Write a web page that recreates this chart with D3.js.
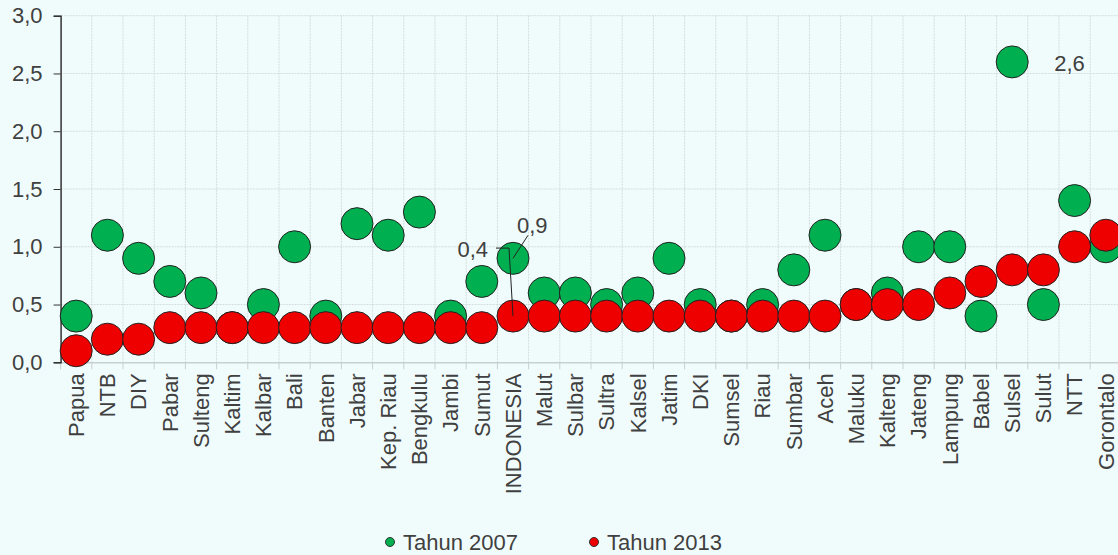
<!DOCTYPE html>
<meta charset="utf-8">
<head>
<script src="https://d3js.org/d3.v7.min.js"></script>
<style>
  body { margin: 0; background: #f0fcfc; }
  svg { display: block; font-family: "Liberation Sans", Arial, Helvetica, sans-serif; }
</style>
</head>
<body>
<svg></svg>
<script>
  // Data
  var provinces = ["Papua", "NTB", "DIY", "Pabar", "Sulteng", "Kaltim", "Kalbar", "Bali", "Banten", "Jabar",
    "Kep. Riau", "Bengkulu", "Jambi", "Sumut", "INDONESIA", "Malut", "Sulbar", "Sultra", "Kalsel", "Jatim",
    "DKI", "Sumsel", "Riau", "Sumbar", "Aceh", "Maluku", "Kalteng", "Jateng", "Lampung", "Babel",
    "Sulsel", "Sulut", "NTT", "Gorontalo"];
  var tahun2007 = [0.4, 1.1, 0.9, 0.7, 0.6, 0.3, 0.5, 1.0, 0.4, 1.2,
    1.1, 1.3, 0.4, 0.7, 0.9, 0.6, 0.6, 0.5, 0.6, 0.9,
    0.5, 0.4, 0.5, 0.8, 1.1, 0.5, 0.6, 1.0, 1.0, 0.4,
    2.6, 0.5, 1.4, 1.0];
  var tahun2013 = [0.1, 0.2, 0.2, 0.3, 0.3, 0.3, 0.3, 0.3, 0.3, 0.3,
    0.3, 0.3, 0.3, 0.3, 0.4, 0.4, 0.4, 0.4, 0.4, 0.4,
    0.4, 0.4, 0.4, 0.4, 0.4, 0.5, 0.5, 0.5, 0.6, 0.7,
    0.8, 0.8, 1.0, 1.1];
  var yTicks = [0, 0.5, 1, 1.5, 2, 2.5, 3];
  var seriesNames = ["Tahun 2007", "Tahun 2013"];
  var seriesColors = ["#00b050", "#ee0000"];

  var width = 1118, height = 555;
  var plotLeft = 60.6, plotTop = 15.7, plotBottom = 362.3;
  var band = 31.2;

  var svg = d3.select("svg").attr("width", width).attr("height", height);
  var fmt = function (d) { return d3.format(".1f")(d).replace(".", ","); };

  var x = d3.scaleBand().domain(provinces).range([plotLeft, plotLeft + band * provinces.length]);
  var y = d3.scaleLinear().domain([0, 3]).range([plotBottom, plotTop]);

  // gridlines
  var grid = svg.append("g").attr("stroke", "#d3dcdc").attr("stroke-dasharray", "2,1");
  grid.selectAll("line.h").data(yTicks.slice(1)).enter().append("line")
    .attr("x1", plotLeft).attr("x2", width).attr("y1", y).attr("y2", y);
  grid.selectAll("line.v").data(provinces.slice(1)).enter().append("line")
    .attr("x1", function (d) { return x(d); }).attr("x2", function (d) { return x(d); })
    .attr("y1", plotTop).attr("y2", plotBottom);

  // x axis
  var xAxis = svg.append("g").attr("transform", "translate(0," + plotBottom + ")")
    .call(d3.axisBottom(x).tickSize(0).tickFormat(""));
  xAxis.select(".domain").attr("stroke", "#c8d0d0").attr("stroke-width", 1.5);
  xAxis.selectAll(".bt").data(provinces).enter().append("line")
    .attr("x1", function (d) { return x(d); }).attr("x2", function (d) { return x(d); })
    .attr("y1", 0).attr("y2", 7).attr("stroke", "#c8d0d0");
  svg.append("g").selectAll("text").data(provinces).enter().append("text")
    .attr("transform", function (d) { return "translate(" + (x(d) + band / 2) + "," + (plotBottom + 11) + ")rotate(-90)"; })
    .attr("dy", "0.35em")
    .attr("text-anchor", "end")
    .attr("font-size", 22)
    .attr("fill", "#404040")
    .text(function (d) { return d; });

  // y axis
  var yAxis = svg.append("g").attr("transform", "translate(" + plotLeft + ",0)")
    .call(d3.axisLeft(y).tickValues(yTicks).tickSize(7).tickPadding(11).tickFormat(fmt));
  yAxis.select(".domain").attr("stroke", "#333").attr("stroke-width", 1.5);
  yAxis.selectAll(".tick line").attr("stroke", "#333");
  yAxis.selectAll("text").attr("font-size", 22).attr("fill", "#404040")
    .attr("font-family", "'Liberation Sans', Arial, sans-serif");

  // dots
  [tahun2007, tahun2013].forEach(function (vals, s) {
    svg.append("g").selectAll("circle").data(vals).enter().append("circle")
      .attr("cx", function (d, i) { return x(provinces[i]) + band / 2; })
      .attr("cy", function (d) { return y(d); })
      .attr("r", 16)
      .attr("fill", seriesColors[s])
      .attr("stroke", "#222")
      .attr("stroke-width", 1);
  });

  // annotations
  var ix = x("INDONESIA") + band / 2;
  var iRed = y(tahun2013[14]), iGreen = y(tahun2007[14]);
  var ann = svg.append("g").attr("font-size", 22).attr("fill", "#404040");
  svg.append("polyline")
    .attr("points", [[ix - 17, iRed - 68], [ix - 4, iRed - 68], [ix, iRed]].join(" "))
    .attr("fill", "none").attr("stroke", "#222").attr("stroke-width", 1);
  ann.append("text").attr("x", ix - 25).attr("y", iRed - 59).attr("text-anchor", "end").text(fmt(tahun2013[14]));
  svg.append("line")
    .attr("x1", ix).attr("y1", iGreen).attr("x2", ix + 15).attr("y2", iGreen - 23)
    .attr("stroke", "#222").attr("stroke-width", 1);
  ann.append("text").attr("x", ix + 4).attr("y", iGreen - 25).text(fmt(tahun2007[14]));
  var sx = x("Sulsel") + band / 2;
  ann.append("text").attr("x", sx + 42).attr("y", y(tahun2007[30]) + 9).text(fmt(tahun2007[30]));

  // legend
  var legX = [390, 594];
  var leg = svg.append("g").selectAll("g").data(seriesNames).enter().append("g")
    .attr("transform", function (d, i) { return "translate(" + legX[i] + ",542)"; });
  leg.append("circle").attr("r", 4.5)
    .attr("fill", function (d, i) { return seriesColors[i]; })
    .attr("stroke", "#333").attr("stroke-width", 1);
  leg.append("text").attr("x", 13).attr("y", 8).attr("font-size", 22).attr("fill", "#404040")
    .text(function (d) { return d; });
</script>
</body>
</html>
